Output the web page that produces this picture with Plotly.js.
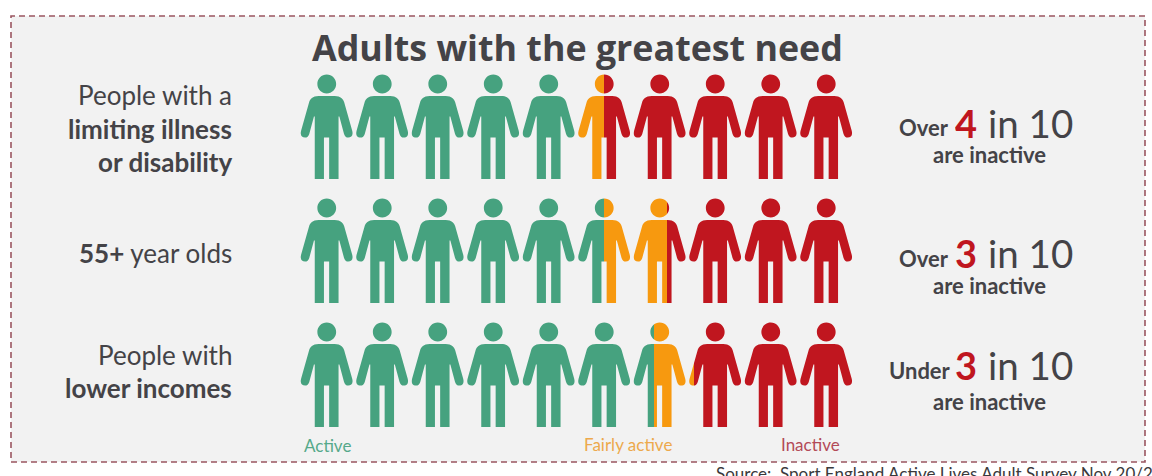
<!DOCTYPE html>
<html>
<head>
<meta charset="utf-8">
<script src="https://cdn.plot.ly/plotly-3.0.1.min.js"></script>
<style>html,body{margin:0;padding:0;background:#fff;overflow:hidden}</style>
</head>
<body>
<div id="chart" style="width:1152px;height:476px"></div>
<script>
// Activity levels for three groups, expressed as people out of ten.
const groups = ['People with a limiting illness or disability', '55+ year olds', 'People with lower incomes'];
const active = [5.0, 5.5, 6.4];
const fairlyActive = [0.5, 1.13, 0.72];
const inactive = [4.5, 3.37, 2.88];

const groupLabels = [
  ['People with a', '<b>limiting illness</b>', '<b>or disability</b>'],
  ['<b>55+</b> year olds'],
  ['People with', '<b>lower incomes</b>']
];
const qualifiers = ['Over', 'Over', 'Under'];
const counts = ['4', '3', '3'];
const outOf = 'in 10';
const caption = 'are inactive';
const legendLabels = ['Active', 'Fairly active', 'Inactive'];
const title = 'Adults with the greatest need';
const source = 'Source:  Sport England Active Lives Adult Survey Nov 20/21';

const W = 1152, H = 476;
const GREEN = '#46a27f', ORANGE = '#f7990f', RED = '#c0161f';
const PANEL = '#f2f2f2', INK = '#444347';
const LABEL_FONT = 'Lato, "Open Sans", sans-serif';
const px = v => v / W;
const py = v => 1 - v / H;

// A stacked bar per group, cut into figures by the mask shapes below.
const series = [
  {name: legendLabels[0], x: active, color: GREEN},
  {name: legendLabels[1], x: fairlyActive, color: ORANGE},
  {name: legendLabels[2], x: inactive, color: RED}
];
const traces = series.map(s => ({
  type: 'bar', orientation: 'h', name: s.name,
  y: groups, x: s.x, width: 0.847,
  marker: {color: s.color, line: {width: 0}},
  hoverinfo: 'x+name'
}));

// Figure outline in pixels about its centre, as an even-odd hole in a panel-coloured cell.
// Written y-down, then flipped because pixel-sized shapes measure y upwards.
const R = 9.4, HY = -43, K = R * 0.5523;
const cell = 'M-29,-57 L29,-57 L29,57 L-29,57 Z ';
const head = `M0,${HY - R} C${K},${HY - R} ${R},${HY - K} ${R},${HY} C${R},${HY + K} ${K},${HY + R} 0,${HY + R} ` +
             `C${-K},${HY + R} ${-R},${HY + K} ${-R},${HY} C${-R},${HY - K} ${-K},${HY - R} 0,${HY - R} Z `;
const body = 'M0,-31 L8,-31 C14,-31 16.5,-28 17.5,-24.5 L25.4,3.5 C26.8,8.5 24.5,10.6 21.5,10.6 ' +
             'C19.5,10.6 18,9.5 17.3,7 L12.6,-10.5 L11.8,-10.5 L11.8,52 L2.4,52 L2.4,10.5 L-2.8,10.5 L-2.8,52 L-12,52 ' +
             'L-12,-10.5 L-12.8,-10.5 L-17.5,7 C-18.2,9.5 -19.7,10.6 -21.7,10.6 C-24.7,10.6 -27,8.5 -25.6,3.5 ' +
             'L-17.7,-24.5 C-16.7,-28 -14.2,-31 -8.2,-31 Z';
const figurePath = (cell + head + body).replace(/(-?[\d.]+),(-?[\d.]+)/g, (m, a, b) => a + ',' + (-b));

const masks = [];
groups.forEach((g, row) => {
  for (let i = 0; i < 10; i++) {
    masks.push({
      type: 'path', layer: 'above', path: figurePath,
      xref: 'x', yref: 'y', xsizemode: 'pixel', ysizemode: 'pixel',
      xanchor: i + 0.5, yanchor: row,
      fillcolor: PANEL, line: {width: 0}
    });
  }
});

const panel = {
  type: 'rect', layer: 'below', xref: 'paper', yref: 'paper',
  x0: px(11), x1: px(1145), y0: py(462), y1: py(16),
  fillcolor: PANEL, line: {color: '#9a5560', width: 1.6, dash: '6px,4px'}
};

function note(text, x, y, size, anchor, color) {
  return {
    text, xref: 'paper', yref: 'paper', x: px(x), y: py(y),
    xanchor: anchor, yanchor: 'middle', showarrow: false, align: anchor,
    font: {family: LABEL_FONT, size, color: color || INK}
  };
}

const notes = [];
notes.push(Object.assign(note('<b>' + title + '</b>', 577, 47, 36, 'center'),
  {font: {family: '"Open Sans", sans-serif', size: 35.8, color: INK}}));

const labelLines = [[95, 129, 162], [253], [355, 388]];
groupLabels.forEach((lines, r) => lines.forEach((line, j) =>
  notes.push(note(line, 234, labelLines[r][j], 26, 'right'))));

const qualifierX = [951, 951, 953], rowY = [123, 253, 365], captionY = [155, 285, 401];
qualifiers.forEach((q, r) => {
  notes.push(note('<b>' + q + '</b>', qualifierX[r], rowY[r] + 5, 22, 'right'));
  // The tall figures sit close above the caption, so their boxes are kept to cap height.
  notes.push(Object.assign(note('<b>' + counts[r] + '</b>', 966, rowY[r], 38, 'center', RED), {height: 32}));
  notes.push(Object.assign(note(outOf, 986, rowY[r], 38.5, 'left'), {height: 32}));
  notes.push(note('<b>' + caption + '</b>', 989, captionY[r], 22, 'center'));
});

notes.push(note(legendLabels[0], 327, 445, 17, 'center', '#55a98a'));
notes.push(note(legendLabels[1], 628, 444, 17, 'center', '#eda94c'));
notes.push(note(legendLabels[2], 810, 444, 17, 'center', '#b34a58'));
notes.push(note(source, 714, 473, 17, 'left', '#3a3a3c'));

Plotly.newPlot('chart', traces, {
  width: W, height: H, margin: {l: 0, r: 0, t: 0, b: 0},
  paper_bgcolor: '#ffffff', plot_bgcolor: 'rgba(0,0,0,0)',
  barmode: 'stack', showlegend: false,
  xaxis: {domain: [px(299), px(854)], range: [0, 10], visible: false, fixedrange: true},
  yaxis: {domain: [py(437), py(65)], type: 'category', autorange: 'reversed', visible: false, fixedrange: true},
  shapes: [panel].concat(masks),
  annotations: notes
}, {displayModeBar: false, staticPlot: true});
</script>
</body>
</html>
